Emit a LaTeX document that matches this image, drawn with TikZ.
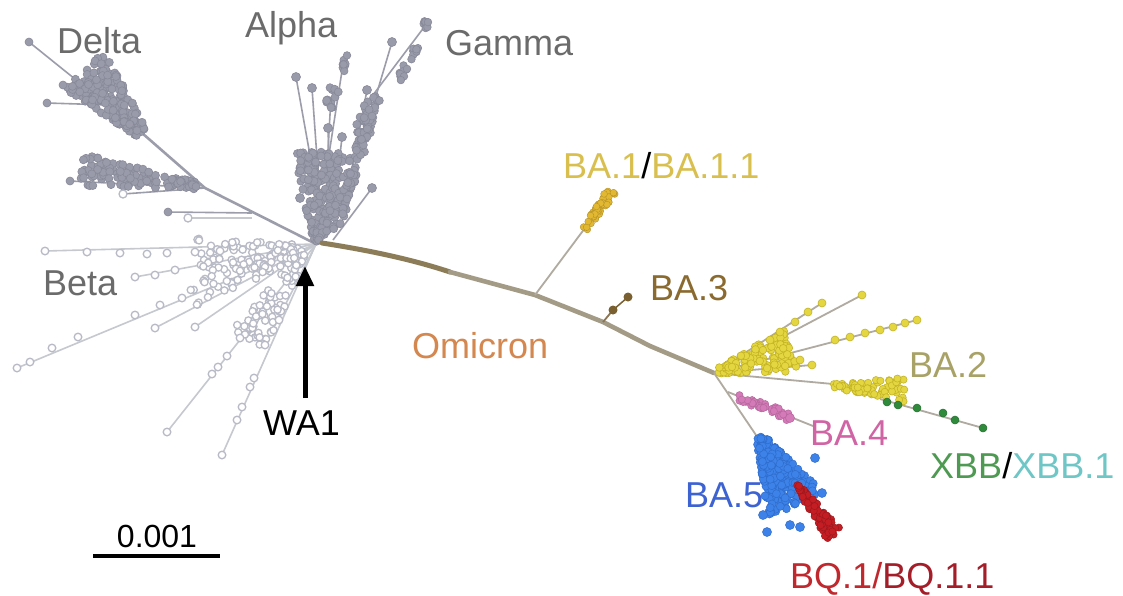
\documentclass[tikz,border=0pt]{standalone}
\usepackage{fontspec}
\setmainfont{Liberation Sans}
\usetikzlibrary{arrows.meta}
\definecolor{gA}{HTML}{9A9BAA}
\definecolor{gAd}{HTML}{888999}
\definecolor{gLn}{HTML}{9C9DAA}
\definecolor{gLt}{HTML}{C6C8D0}
\definecolor{bB}{HTML}{B8BAC6}
\definecolor{txtg}{HTML}{6B6B6B}
\definecolor{omi}{HTML}{D4874F}
\definecolor{baone}{HTML}{D8BF4E}
\definecolor{bathree}{HTML}{8A6A2E}
\definecolor{batwo}{HTML}{A8A267}
\definecolor{bafour}{HTML}{D064A4}
\definecolor{xbbg}{HTML}{4E9A52}
\definecolor{xbbc}{HTML}{6EC6C6}
\definecolor{bafive}{HTML}{3D62D2}
\definecolor{bqt}{HTML}{C0282E}
\definecolor{bqt2}{HTML}{A41E2A}
\definecolor{yel}{HTML}{E4D640}
\definecolor{yeld}{HTML}{C4B426}
\definecolor{ochre}{HTML}{E2B832}
\definecolor{blu}{HTML}{3C82E8}
\definecolor{blud}{HTML}{2F6CCB}
\definecolor{rdd}{HTML}{C41E24}
\definecolor{grn}{HTML}{2F8A3C}
\definecolor{pnk}{HTML}{D47AB8}
\definecolor{trunkA}{HTML}{8C7C58}
\definecolor{trunkB}{HTML}{A39B85}
\definecolor{tanln}{HTML}{B0AAA0}
\definecolor{brn}{HTML}{7A6030}
% comet: Sx Sy Ex Ey w0 w1 n style radius
\newcommand\drawcomet[9]{%
  \pgfmathsetmacro\cdx{#3-#1}%
  \pgfmathsetmacro\cdy{#4-#2}%
  \pgfmathsetmacro\cl{veclen(\cdx,\cdy)}%
  \foreach \k in {1,...,#7}{%
    \pgfmathsetmacro\ct{rnd^0.8}%
    \pgfmathsetmacro\cs{2*rnd-1}%
    \pgfmathsetmacro\cw{(#5+(#6-#5)*\ct)*\cs}%
    \pgfmathsetmacro\cx{#1+\ct*\cdx-\cw*\cdy/\cl}%
    \pgfmathsetmacro\cy{#2+\ct*\cdy+\cw*\cdx/\cl}%
    \path[#8] (\cx,\cy) circle[radius=#9];
  }}
\begin{document}
\begin{tikzpicture}[x=1pt,y=-1pt,
  lbl/.style={inner sep=0pt, anchor=base west, font=\fontsize{36}{40}\selectfont},
  gdot/.style={fill=gA, draw=gAd, line width=0.6pt},
  bdot/.style={fill=white, draw=bB, line width=1.3pt},
  gline/.style={draw=gLn, line width=1.6pt},
  bline/.style={draw=gLt, line width=1.6pt},
  tline/.style={draw=tanln, line width=1.8pt},
  ydot/.style={fill=yel, draw=yeld, line width=0.6pt},
  odot/.style={fill=ochre, draw=ochre!80!black, line width=0.4pt},
  bldot/.style={fill=blu, draw=blud, line width=0.5pt},
  rdot/.style={fill=rdd, draw=rdd!80!black, line width=0.5pt},
  pdot/.style={fill=pnk, draw=pnk!85!black, line width=0.5pt},
  grdot/.style={fill=grn, draw=grn!80!black, line width=0.5pt}]
\pgfmathsetseed{42}
\useasboundingbox (0,0) rectangle (1123,595);
\fill[white] (0,0) rectangle (1123,595);

% ---------- root and named points
\coordinate (root) at (316,244);
\coordinate (dnode) at (205,188);
\coordinate (dtop) at (142,133);
\coordinate (omA) at (450,272);
\coordinate (omB) at (535,295);
\coordinate (omC) at (603,322);
\coordinate (hub) at (714,373);

% ---------- Beta (light, open circles)
\foreach \ex/\ey in {45/251,135/277,17/368,155/328,195/327,167/432,222/455,265/345}
  \draw[bline] (root) -- (\ex,\ey);
\drawcomet{305}{250}{200}{262}{5}{24}{100}{bdot}{3.6pt}
\drawcomet{303}{254}{250}{340}{4}{20}{80}{bdot}{3.6pt}
\drawcomet{305}{252}{190}{300}{3}{14}{40}{bdot}{3.6pt}
\foreach \px/\py in {45/251,87/252,120/253,147/254,167/253,195/252,220/251,
  135/277,155/275,175/270,
  17/368,30/362,52/348,78/337,135/315,160/305,182/298,
  155/328,195/327,
  167/432,212/374,218/367,227/356,240/338,
  222/455,237/420,242/407,250/387,254/378,279/320,265/345}
  \path[bdot] (\px,\py) circle[radius=3.8pt];

% ---------- Delta
\draw[gline, line width=2.6pt] (root) -- (dnode) -- (dtop);
\draw[gline] (dtop) -- (29,42);
\draw[gline] (110,100) -- (63,85);
\draw[gline] (110,105) -- (47,103);
\drawcomet{142}{133}{84}{70}{6}{28}{200}{gdot}{4pt}
\path[gdot] (29,42) circle[radius=4pt] (63,85) circle[radius=4pt] (47,103) circle[radius=4pt];
% second Delta-side cluster
\draw[gline] (dnode) -- (70,181);
\draw[gline] (dnode) -- (123,194);
\drawcomet{198}{186}{82}{170}{3}{16}{110}{gdot}{4pt}
\path[gdot] (70,181) circle[radius=4pt];
\path[bdot] (123,194) circle[radius=4pt];
\draw[gline] (252,213) -- (168,212);
\draw[bline] (252,218) -- (188,218);
\path[gdot] (168,212) circle[radius=4pt];
\path[bdot] (188,218) circle[radius=4pt];

% ---------- Alpha / Gamma
\foreach \sx/\sy/\ex/\ey in {318/200/296/77, 320/200/312/88, 325/180/344/58, 335/200/342/137,
   330/190/328/128, 350/180/367/90, 360/150/392/42, 333/240/372/188, 373/95/428/22, 328/150/331/97}
  \draw[gline] (\sx,\sy) -- (\ex,\ey);
\drawcomet{318}{242}{320}{152}{5}{26}{160}{gdot}{4pt}
\drawcomet{318}{240}{345}{175}{4}{12}{60}{gdot}{4pt}
\drawcomet{335}{232}{373}{95}{4}{9}{90}{gdot}{4pt}
\drawcomet{329}{110}{333}{88}{5}{6}{12}{gdot}{4pt}
\drawcomet{343}{72}{345}{55}{2}{3}{8}{gdot}{3.8pt}
\drawcomet{397}{84}{406}{66}{3}{3}{10}{gdot}{3.8pt}
\drawcomet{409}{60}{416}{46}{3}{3}{8}{gdot}{3.8pt}
\drawcomet{421}{34}{428}{20}{3}{3}{8}{gdot}{3.8pt}
\path[gdot] (296,77) circle[radius=4.5pt] (312,88) circle[radius=4.5pt] (342,137) circle[radius=4.5pt]
  (328,128) circle[radius=4.5pt] (367,90) circle[radius=4.5pt] (392,42) circle[radius=4.5pt]
  (372,188) circle[radius=4.5pt] (300,198) circle[radius=4.5pt];

% ---------- Omicron trunk
\draw[trunkA, line width=5pt, line cap=round] (322,243) .. controls (380,252) and (420,262) .. (omA);
\draw[trunkB, line width=4.6pt, line cap=round, line join=round] (omA) -- (omB) -- (omC) -- (650,346) -- (hub);

% BA.1
\draw[tline] (omB) -- (585,228);
\drawcomet{584}{229}{612}{191}{3}{5}{50}{odot}{3.4pt}
% BA.3
\draw[tline, draw=brn!70!tanln] (omC) -- (613,310);
\path[fill=brn] (613,310) circle[radius=4.5pt] (628,297) circle[radius=4.5pt];
\draw[brn, line width=1.5pt] (613,310) -- (628,297);

% BA.2 fan
\foreach \ex/\ey in {822/303, 862/295, 917/320, 812/365}
  \draw[tline] (hub) -- (\ex,\ey);
\draw[tline] (hub) -- (833,384);
\draw[tline] (880,399) -- (983,428);
\drawcomet{716}{372}{792}{350}{3}{22}{130}{ydot}{3.8pt}
\drawcomet{833}{385}{905}{390}{3}{12}{70}{ydot}{3.6pt}
\foreach \px/\py in {822/303, 862/295, 917/320, 905/323, 893/327, 880/330, 865/333, 850/337, 835/340,
  812/365, 800/360, 780/332, 795/322, 808/312, 770/340}
  \path[ydot] (\px,\py) circle[radius=4pt];
% XBB
\foreach \px/\py in {887/402, 898/405, 917/408, 943/413, 955/420, 983/428}
  \path[grdot] (\px,\py) circle[radius=4pt];

% BA.4 and BA.5 stems
\draw[tline] (hub) -- (758,438);
\draw[tline] (728,392) -- (813,426);
\drawcomet{737}{396}{790}{418}{4}{5}{40}{pdot}{3.6pt}
\path[pdot] (790,418) circle[radius=4.5pt];

% BA.5
\drawcomet{760}{437}{795}{505}{4}{30}{220}{bldot}{4pt}
\foreach \px/\py in {767/532, 790/525, 800/527, 822/493, 815/458, 763/515}
  \path[bldot] (\px,\py) circle[radius=4.5pt];
% BQ.1
\drawcomet{797}{485}{834}{535}{2}{9}{80}{rdot}{3.6pt}

% ---------- labels
\node[lbl, text=txtg] (tDelta) at (57,53) {Delta};
\node[lbl, text=txtg] (tAlpha) at (245,37) {Alpha};
\node[lbl, text=txtg] (tGamma) at (445,55) {Gamma};
\node[lbl, text=txtg] (tBeta) at (43,295) {Beta};
\node[lbl, text=black] (tWA) at (263,435) {WA1};
\node[lbl, text=omi] (tOmi) at (412,358) {Omicron};
\node[lbl] (tBAone) at (563,178) {\textcolor{baone}{BA.1}\textcolor{black}{/}\textcolor{baone}{BA.1.1}};
\node[lbl, text=bathree] (tBAthree) at (650,300) {BA.3};
\node[lbl, text=batwo] (tBAtwo) at (909,377) {BA.2};
\node[lbl, text=bafour] (tBAfour) at (810,445) {BA.4};
\node[lbl] (tXBB) at (930,478) {\textcolor{xbbg}{XBB}\textcolor{black}{/}\textcolor{xbbc}{XBB.1}};
\node[lbl, text=bafive] (tBAfive) at (685,507) {BA.5};
\node[lbl] (tBQ) at (790,588) {\textcolor{bqt}{BQ.1/}\textcolor{bqt2}{BQ.1.1}};

% WA1 arrow
\coordinate (arrS) at (305,398);
\coordinate (arrE) at (305,266);
\draw[line width=5pt, -{Triangle[length=20pt,width=17pt]}] (arrS) -- (arrE);

% scale bar
\coordinate (sbA) at (93,556);
\coordinate (sbB) at (220,556);
\draw[line width=4pt] (sbA) -- (sbB);
\node[inner sep=0pt, anchor=base, font=\fontsize{32}{36}\selectfont] (tScale) at (157,547) {0.001};
\end{tikzpicture}
\end{document}
